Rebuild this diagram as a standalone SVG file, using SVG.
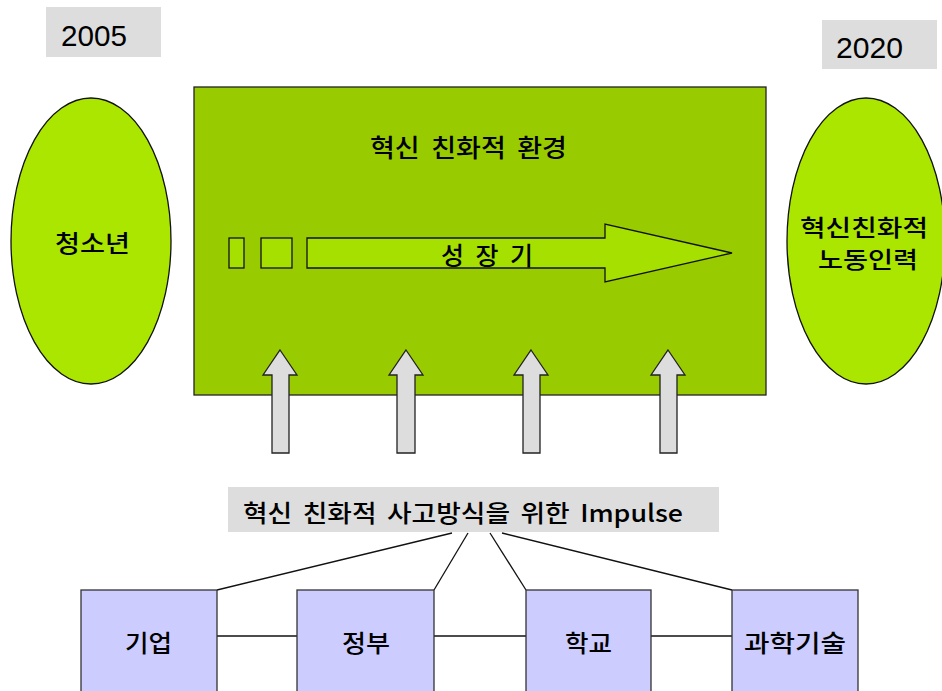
<svg xmlns="http://www.w3.org/2000/svg" width="942" height="691" viewBox="0 0 942 691">
<style>
.lat{font-family:"Liberation Sans",Arial,sans-serif;fill:#000}
.kr{font-family:"Noto Sans CJK KR","Noto Sans",sans-serif;fill:#000;font-weight:500}
.gray{fill:#DDDDDD;stroke:none}
.ell{fill:#AAE600;stroke:#111;stroke-width:1.3}
.up{fill:#DDDDDD;stroke:#222;stroke-width:1.3}
.box{fill:#CCCCFF;stroke:#333;stroke-width:1.3}
.con{stroke:#111;stroke-width:1.3;fill:none}
.grow{fill:#A6E000;stroke:#111;stroke-width:1.3}
</style>
<g id="year2005">
<rect class="gray" x="46" y="7" width="115" height="50"/>
<text class="lat" x="61" y="46" font-size="30" textLength="66" lengthAdjust="spacingAndGlyphs">2005</text>
</g>
<g id="year2020">
<rect class="gray" x="822" y="20" width="115" height="49"/>
<text class="lat" x="836" y="58" font-size="30" textLength="67" lengthAdjust="spacingAndGlyphs">2020</text>
</g>
<g id="youth">
<ellipse class="ell" cx="91" cy="241" rx="80" ry="143"/>
<text class="kr" x="55" y="252" font-size="24" textLength="75" lengthAdjust="spacingAndGlyphs">청소년</text>
</g>
<g id="environment">
<rect x="194" y="87" width="572" height="308" fill="#99CC00" stroke="#222" stroke-width="1.3"/>
<text class="kr" x="370" y="157" font-size="25" word-spacing="5" textLength="197" lengthAdjust="spacingAndGlyphs">혁신 친화적 환경</text>
</g>
<g id="growth">
<rect class="grow" x="229" y="238" width="15" height="30"/>
<rect class="grow" x="261" y="238" width="31" height="30"/>
<polygon class="grow" points="307,238 605,238 605,224 732,253 605,282 605,268 307,268"/>
<text class="kr" x="441" y="265" font-size="25" textLength="92" lengthAdjust="spacing">성 장 기</text>
</g>
<g id="workforce">
<ellipse class="ell" cx="866" cy="241" rx="79" ry="143"/>
<text class="kr" x="800" y="236" font-size="23" textLength="128" lengthAdjust="spacingAndGlyphs">혁신친화적</text>
<text class="kr" x="818" y="268" font-size="23" textLength="100" lengthAdjust="spacingAndGlyphs">노동인력</text>
</g>
<g id="up-arrows">
<polygon class="up" points="280,350 297,375 289,375 289,453 272,453 272,375 263,375"/>
<polygon class="up" points="406,350 423,375 415,375 415,453 397,453 397,375 389,375"/>
<polygon class="up" points="531,350 548,375 540,375 540,453 523,453 523,375 514,375"/>
<polygon class="up" points="668,350 685,375 677,375 677,453 660,453 660,375 651,375"/>
</g>
<g id="impulse">
<rect class="gray" x="228" y="487" width="491" height="45"/>
<text class="kr" x="243" y="522" font-size="24" word-spacing="4" textLength="440" lengthAdjust="spacingAndGlyphs">혁신 친화적 사고방식을 위한 Impulse</text>
</g>
<g id="connectors">
<line class="con" x1="452" y1="533" x2="217" y2="590"/>
<line class="con" x1="468" y1="533" x2="434" y2="590"/>
<line class="con" x1="490" y1="533" x2="526" y2="590"/>
<line class="con" x1="502" y1="533" x2="732" y2="590"/>
<line class="con" x1="217" y1="636" x2="297" y2="636"/>
<line class="con" x1="434" y1="636" x2="526" y2="636"/>
<line class="con" x1="651" y1="636" x2="732" y2="636"/>
</g>
<g id="company">
<rect class="box" x="81" y="590" width="136" height="110"/>
<text class="kr" x="125" y="652" font-size="24" textLength="47" lengthAdjust="spacingAndGlyphs">기업</text>
</g>
<g id="government">
<rect class="box" x="297" y="590" width="137" height="110"/>
<text class="kr" x="342" y="652" font-size="24" textLength="48" lengthAdjust="spacingAndGlyphs">정부</text>
</g>
<g id="school">
<rect class="box" x="526" y="590" width="125" height="110"/>
<text class="kr" x="565" y="652" font-size="24" textLength="47" lengthAdjust="spacingAndGlyphs">학교</text>
</g>
<g id="science">
<rect class="box" x="732" y="590" width="126" height="110"/>
<text class="kr" x="744" y="652" font-size="24" textLength="102" lengthAdjust="spacingAndGlyphs">과학기술</text>
</g>
</svg>
